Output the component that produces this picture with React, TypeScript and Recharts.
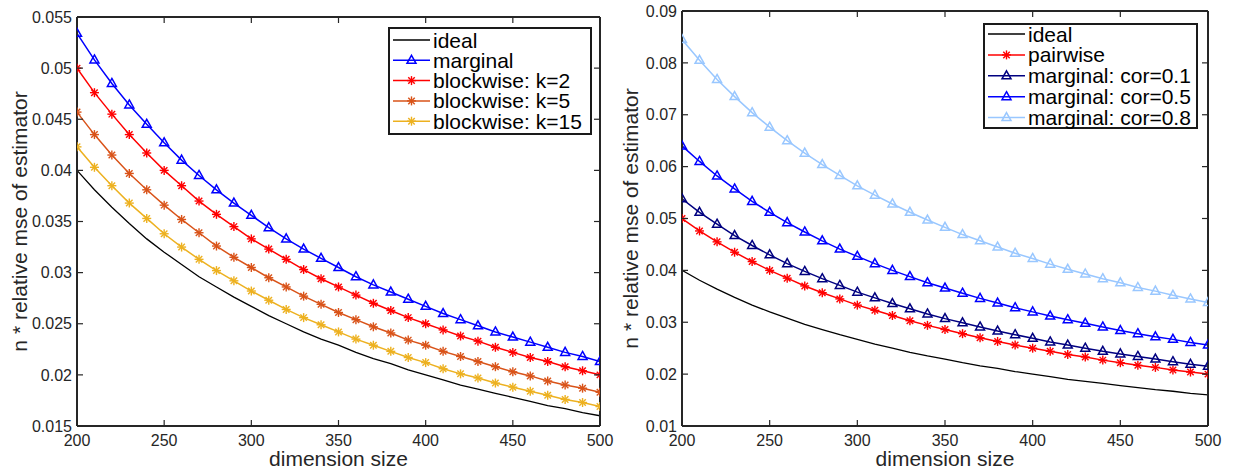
import React from 'react';
import { LineChart, Line, XAxis, YAxis, Legend, Label } from 'recharts';

// ---------- data ----------
const dims = [200, 210, 220, 230, 240, 250, 260, 270, 280, 290, 300, 310, 320, 330, 340, 350, 360, 370, 380, 390, 400, 410, 420, 430, 440, 450, 460, 470, 480, 490, 500];

const ideal = [0.04, 0.0381, 0.0364, 0.0348, 0.0333, 0.032, 0.0308, 0.0296, 0.0286, 0.0276, 0.0267, 0.0258, 0.025, 0.0242, 0.0235, 0.0229, 0.0222, 0.0216, 0.0211, 0.0205, 0.02, 0.0195, 0.019, 0.0186, 0.0182, 0.0178, 0.0174, 0.017, 0.0167, 0.0163, 0.016];
const marginal = [0.0534, 0.0508, 0.0485, 0.0464, 0.0445, 0.0427, 0.041, 0.0395, 0.0381, 0.0368, 0.0356, 0.0344, 0.0333, 0.0323, 0.0314, 0.0305, 0.0296, 0.0288, 0.0281, 0.0274, 0.0267, 0.026, 0.0254, 0.0248, 0.0242, 0.0237, 0.0232, 0.0227, 0.0222, 0.0218, 0.0213];
const blockK2 = [0.05, 0.0476, 0.0455, 0.0435, 0.0417, 0.04, 0.0385, 0.037, 0.0357, 0.0345, 0.0333, 0.0323, 0.0313, 0.0303, 0.0294, 0.0286, 0.0278, 0.027, 0.0263, 0.0256, 0.025, 0.0244, 0.0238, 0.0233, 0.0227, 0.0222, 0.0217, 0.0213, 0.0208, 0.0204, 0.02];
const blockK5 = [0.0457, 0.0435, 0.0415, 0.0397, 0.0381, 0.0366, 0.0352, 0.0339, 0.0326, 0.0315, 0.0305, 0.0295, 0.0286, 0.0277, 0.0269, 0.0261, 0.0254, 0.0247, 0.0241, 0.0234, 0.0229, 0.0223, 0.0218, 0.0213, 0.0208, 0.0203, 0.0199, 0.0194, 0.019, 0.0187, 0.0183];
const blockK15 = [0.0423, 0.0403, 0.0385, 0.0368, 0.0353, 0.0338, 0.0325, 0.0313, 0.0302, 0.0292, 0.0282, 0.0273, 0.0264, 0.0256, 0.0249, 0.0242, 0.0235, 0.0229, 0.0223, 0.0217, 0.0212, 0.0206, 0.0201, 0.0197, 0.0192, 0.0188, 0.0184, 0.018, 0.0176, 0.0173, 0.0169];

const pairwise = [0.05, 0.0476, 0.0455, 0.0435, 0.0417, 0.04, 0.0385, 0.037, 0.0357, 0.0345, 0.0333, 0.0323, 0.0313, 0.0303, 0.0294, 0.0286, 0.0278, 0.027, 0.0263, 0.0256, 0.025, 0.0244, 0.0238, 0.0233, 0.0227, 0.0222, 0.0217, 0.0213, 0.0208, 0.0204, 0.02];
const cor01 = [0.0538, 0.0512, 0.0489, 0.0467, 0.0448, 0.043, 0.0413, 0.0398, 0.0384, 0.0371, 0.0358, 0.0347, 0.0336, 0.0326, 0.0316, 0.0307, 0.0299, 0.0291, 0.0283, 0.0276, 0.0269, 0.0262, 0.0256, 0.025, 0.0244, 0.0239, 0.0234, 0.0229, 0.0224, 0.0219, 0.0215];
const cor05 = [0.064, 0.061, 0.0582, 0.0557, 0.0533, 0.0512, 0.0492, 0.0474, 0.0457, 0.0441, 0.0427, 0.0413, 0.04, 0.0388, 0.0376, 0.0366, 0.0356, 0.0346, 0.0337, 0.0328, 0.032, 0.0312, 0.0305, 0.0298, 0.0291, 0.0284, 0.0278, 0.0272, 0.0267, 0.0261, 0.0256];
const cor08 = [0.0845, 0.0805, 0.0768, 0.0735, 0.0704, 0.0676, 0.065, 0.0626, 0.0604, 0.0583, 0.0563, 0.0545, 0.0528, 0.0512, 0.0497, 0.0483, 0.0469, 0.0457, 0.0445, 0.0433, 0.0423, 0.0412, 0.0402, 0.0393, 0.0384, 0.0376, 0.0367, 0.036, 0.0352, 0.0345, 0.0338];

const xTicks = [200, 250, 300, 350, 400, 450, 500];
const xTickLabels = ['200', '250', '300', '350', '400', '450', '500'];
const leftYTicks = [0.015, 0.02, 0.025, 0.03, 0.035, 0.04, 0.045, 0.05, 0.055];
const leftYTickLabels = ['0.015', '0.02', '0.025', '0.03', '0.035', '0.04', '0.045', '0.05', '0.055'];
const rightYTicks = [0.01, 0.02, 0.03, 0.04, 0.05, 0.06, 0.07, 0.08, 0.09];
const rightYTickLabels = ['0.01', '0.02', '0.03', '0.04', '0.05', '0.06', '0.07', '0.08', '0.09'];

const xLabel = 'dimension size';
const yLabel = 'n * relative mse of estimator';

type Marker = 'none' | 'tri' | 'star';
type Series = { key: string; name: string; color: string; marker: Marker; width: number; values: number[] };

const leftSeries: Series[] = [
  { key: 'ideal', name: 'ideal', color: '#000000', marker: 'none', width: 1.3, values: ideal },
  { key: 'marginal', name: 'marginal', color: '#0000ff', marker: 'tri', width: 1.5, values: marginal },
  { key: 'k2', name: 'blockwise: k=2', color: '#ff0000', marker: 'star', width: 1.5, values: blockK2 },
  { key: 'k5', name: 'blockwise: k=5', color: '#d95319', marker: 'star', width: 1.5, values: blockK5 },
  { key: 'k15', name: 'blockwise: k=15', color: '#edb120', marker: 'star', width: 1.5, values: blockK15 },
];

const rightSeries: Series[] = [
  { key: 'ideal', name: 'ideal', color: '#000000', marker: 'none', width: 1.3, values: ideal },
  { key: 'pairwise', name: 'pairwise', color: '#ff0000', marker: 'star', width: 1.5, values: pairwise },
  { key: 'c1', name: 'marginal: cor=0.1', color: '#000080', marker: 'tri', width: 1.5, values: cor01 },
  { key: 'c5', name: 'marginal: cor=0.5', color: '#0000ff', marker: 'tri', width: 1.5, values: cor05 },
  { key: 'c8', name: 'marginal: cor=0.8', color: '#99c7ff', marker: 'tri', width: 1.5, values: cor08 },
];

// ---------- styles ----------
const FONT = '"Liberation Sans", Arial, Helvetica, sans-serif';
const AX = '#262626';
const TICK_LEN = 6;

function buildRows(series: Series[]) {
  return dims.map((d, i) => {
    const row: Record<string, number> = { x: d };
    series.forEach((s) => {
      row[s.key] = s.values[i];
    });
    return row;
  });
}

function markerEl(kind: Marker, cx: number, cy: number, color: string, key?: any) {
  if (kind === 'tri') {
    return (
      <path
        key={key}
        d={`M${cx},${cy - 5} L${cx + 4.5},${cy + 3} L${cx - 4.5},${cy + 3} Z`}
        fill="none"
        stroke={color}
        strokeWidth={1.5}
        strokeLinejoin="miter"
      />
    );
  }
  if (kind === 'star') {
    const r = 4.5;
    const d = r * 0.72;
    return (
      <g key={key} stroke={color} strokeWidth={1.4}>
        <line x1={cx} y1={cy - r} x2={cx} y2={cy + r} />
        <line x1={cx - r} y1={cy} x2={cx + r} y2={cy} />
        <line x1={cx - d} y1={cy - d} x2={cx + d} y2={cy + d} />
        <line x1={cx - d} y1={cy + d} x2={cx + d} y2={cy - d} />
      </g>
    );
  }
  return <g key={key} />;
}

function makeDot(kind: Marker, color: string) {
  return (p: any) => {
    if (p == null || p.cx == null || p.cy == null) return <g key={p?.index} />;
    return markerEl(kind, p.cx, p.cy, color, p.index);
  };
}

function BottomTick(labels: string[], ticks: number[]) {
  return (p: any) => {
    const v = p.payload?.value;
    const idx = ticks.indexOf(v);
    const text = idx >= 0 ? labels[idx] : String(v);
    return (
      <g key={`bt-${p.index}`}>
        <line x1={p.x} y1={p.y} x2={p.x} y2={p.y - TICK_LEN} stroke={AX} strokeWidth={1.2} />
        <text x={p.x} y={p.y + 20} textAnchor="middle" fontSize={16} fontFamily={FONT} fill={AX}>
          {text}
        </text>
      </g>
    );
  };
}

function TopTick(p: any) {
  return (
    <g key={`tt-${p.index}`}>
      <line x1={p.x} y1={p.y} x2={p.x} y2={p.y + TICK_LEN} stroke={AX} strokeWidth={1.2} />
    </g>
  );
}

function LeftTick(labels: string[], ticks: number[]) {
  return (p: any) => {
    const v = p.payload?.value;
    let idx = -1;
    ticks.forEach((t, i) => {
      if (Math.abs(t - v) < 1e-9) idx = i;
    });
    const text = idx >= 0 ? labels[idx] : String(v);
    return (
      <g key={`lt-${p.index}`}>
        <line x1={p.x} y1={p.y} x2={p.x + TICK_LEN} y2={p.y} stroke={AX} strokeWidth={1.2} />
        <text x={p.x - 5} y={p.y + 5.7} textAnchor="end" fontSize={16} fontFamily={FONT} fill={AX}>
          {text}
        </text>
      </g>
    );
  };
}

function RightTick(p: any) {
  return (
    <g key={`rt-${p.index}`}>
      <line x1={p.x} y1={p.y} x2={p.x - TICK_LEN} y2={p.y} stroke={AX} strokeWidth={1.2} />
    </g>
  );
}

type LegendCfg = { left: number; top: number; width: number; height: number; rowStart: number; rowStep: number };

function LegendBox({ series, cfg }: { series: Series[]; cfg: LegendCfg }) {
  return (
    <svg width={cfg.width} height={cfg.height} style={{ display: 'block' }}>
      <rect x={1} y={1} width={cfg.width - 2} height={cfg.height - 2} fill="#ffffff" stroke="#1a1a1a" strokeWidth={2} />
      {series.map((s, i) => {
        const y = cfg.rowStart + i * cfg.rowStep;
        return (
          <g key={s.key}>
            <line x1={5} y1={y} x2={42} y2={y} stroke={s.color} strokeWidth={s.width} />
            {markerEl(s.marker, 23.5, y, s.color)}
            <text x={45} y={y + 7.5} fontSize={21} fontFamily={FONT} fill="#000000">
              {s.name}
            </text>
          </g>
        );
      })}
    </svg>
  );
}

type PanelProps = {
  width: number;
  height: number;
  margin: { top: number; right: number; bottom: number; left: number };
  series: Series[];
  yDomain: [number, number];
  yTicks: number[];
  yTickLabels: string[];
  legend: LegendCfg;
  yLabelGap: number;
};

function Panel(props: PanelProps) {
  const { width, height, margin, series, yDomain, yTicks, yTickLabels, legend, yLabelGap } = props;
  const rows = buildRows(series);
  return (
    <LineChart width={width} height={height} data={rows} margin={margin}>
      <XAxis
        dataKey="x"
        type="number"
        domain={[200, 500]}
        ticks={xTicks}
        allowDataOverflow
        interval={0}
        height={1}
        tickSize={0}
        tickMargin={0}
        tickLine={false}
        axisLine={{ stroke: AX, strokeWidth: 2 }}
        tick={BottomTick(xTickLabels, xTicks)}
      >
        <Label
          content={(lp: any) => {
            const vb = lp.viewBox || {};
            return (
              <text
                x={(vb.x ?? 0) + (vb.width ?? 0) / 2}
                y={(vb.y ?? 0) + 40}
                textAnchor="middle"
                fontSize={21}
                fontFamily={FONT}
                fill={AX}
              >
                {xLabel}
              </text>
            );
          }}
        />
      </XAxis>
      <XAxis
        xAxisId="top"
        orientation="top"
        dataKey="x"
        type="number"
        domain={[200, 500]}
        ticks={xTicks}
        allowDataOverflow
        interval={0}
        height={1}
        tickSize={0}
        tickMargin={0}
        tickLine={false}
        axisLine={{ stroke: AX, strokeWidth: 2 }}
        tick={TopTick}
      />
      <YAxis
        type="number"
        domain={yDomain}
        ticks={yTicks}
        allowDataOverflow
        interval={0}
        width={1}
        tickSize={0}
        tickMargin={0}
        tickLine={false}
        axisLine={{ stroke: AX, strokeWidth: 2 }}
        tick={LeftTick(yTickLabels, yTicks)}
      >
        <Label
          content={(lp: any) => {
            const vb = lp.viewBox || {};
            const cx = (vb.x ?? 0) + (vb.width ?? 0) - yLabelGap;
            const cy = (vb.y ?? 0) + (vb.height ?? 0) / 2;
            return (
              <text
                x={cx}
                y={cy}
                textAnchor="middle"
                fontSize={21}
                fontFamily={FONT}
                fill={AX}
                transform={`rotate(-90 ${cx} ${cy})`}
              >
                {yLabel}
              </text>
            );
          }}
        />
      </YAxis>
      <YAxis
        yAxisId="right"
        orientation="right"
        type="number"
        domain={yDomain}
        ticks={yTicks}
        allowDataOverflow
        interval={0}
        width={1}
        tickSize={0}
        tickMargin={0}
        tickLine={false}
        axisLine={{ stroke: AX, strokeWidth: 2 }}
        tick={RightTick}
      />
      <Legend
        layout="horizontal"
        verticalAlign="middle"
        align="center"
        wrapperStyle={{ position: 'absolute', left: legend.left, top: legend.top, width: legend.width, height: legend.height }}
        content={() => <LegendBox series={series} cfg={legend} />}
      />
      {series.map((s) => (
        <Line
          key={s.key}
          dataKey={s.key}
          name={s.name}
          type="linear"
          stroke={s.color}
          strokeWidth={s.width}
          dot={s.marker === 'none' ? false : makeDot(s.marker, s.color)}
          activeDot={false}
          isAnimationActive={false}
        />
      ))}
    </LineChart>
  );
}

export default function App() {
  return (
    <div style={{ position: 'absolute', left: 0, top: 0, width: 1233, height: 473, background: '#ffffff', fontFamily: FONT }}>
      <div style={{ position: 'absolute', left: 0, top: 0 }}>
        <Panel
          width={620}
          height={473}
          margin={{ top: 16, right: 19, bottom: 46, left: 76 }}
          series={leftSeries}
          yDomain={[0.015, 0.055]}
          yTicks={leftYTicks}
          yTickLabels={leftYTickLabels}
          legend={{ left: 388, top: 27, width: 204, height: 108, rowStart: 13, rowStep: 20.3 }}
          yLabelGap={50}
        />
      </div>
      <div style={{ position: 'absolute', left: 620, top: 0 }}>
        <Panel
          width={613}
          height={473}
          margin={{ top: 10, right: 24, bottom: 46, left: 61 }}
          series={rightSeries}
          yDomain={[0.01, 0.09]}
          yTicks={rightYTicks}
          yTickLabels={rightYTickLabels}
          legend={{ left: 363, top: 23, width: 215, height: 106, rowStart: 11, rowStep: 20.9 }}
          yLabelGap={44}
        />
      </div>
    </div>
  );
}
